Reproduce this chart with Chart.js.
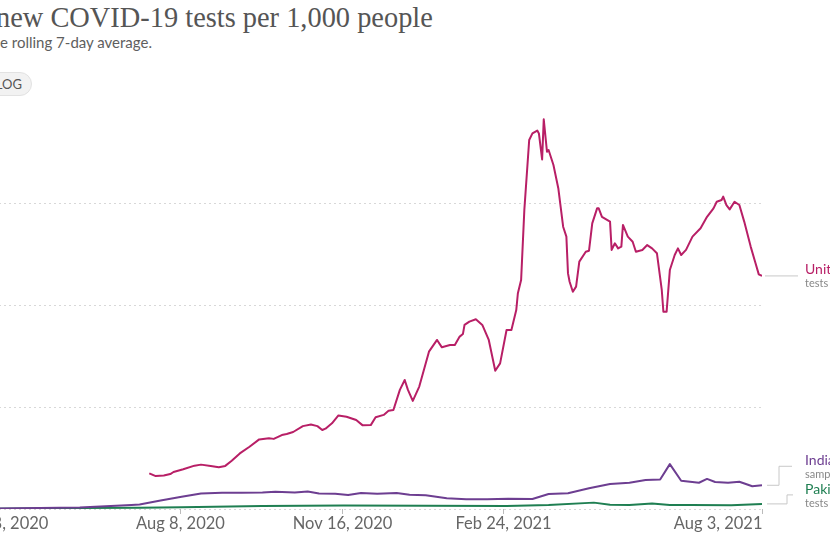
<!DOCTYPE html>
<html>
<head>
<meta charset="utf-8">
<script src="https://cdn.jsdelivr.net/npm/chart.js@4.4.1/dist/chart.umd.min.js"></script>
<style>
  html, body { margin: 0; padding: 0; background: #fff; }
  body { width: 830px; height: 540px; overflow: hidden; position: relative; font-family: Lato, sans-serif; }
  #title { position: absolute; left: -4px; top: 4px; font-family: "Liberation Serif", serif; font-size: 28.4px; line-height: 28px; color: #555; white-space: nowrap; }
  #subtitle { position: absolute; left: 0; top: 33px; font-size: 15px; line-height: 18px; color: #5e5e5e; white-space: nowrap; }
  .lead { position: absolute; right: 100%; top: 0; white-space: pre; }
  #toggle { position: absolute; right: 798px; top: 72px; height: 22px; line-height: 22px; border-radius: 12px; background: #f2f2f2; border: 1px solid #e2e2e2; font-size: 13px; color: #555; white-space: nowrap; }
  #toggle span { padding: 0 9px; }
  #wrap { position: absolute; left: -110px; top: 0; width: 940px; height: 540px; }
</style>
</head>
<body>
<div id="title"><span class="lead">Daily </span>new COVID-19 tests per 1,000 people</div>
<div id="subtitle"><span class="lead">Shown is th</span>e rolling 7-day average.</div>
<div id="toggle"><span>LINEAR</span><span>LOG</span></div>
<div id="wrap"><canvas id="chart" width="940" height="540"></canvas></div>
<script>
// days counted from START_DATE
const START_DATE = "2020-03-18";

const ukDays = [124, 128, 133, 137, 139, 145, 152, 156, 162, 167, 171, 175, 180, 186, 192, 198, 201, 206, 209, 213,
  219, 224, 228, 231, 233, 237, 241, 246, 252, 256, 261, 264, 269, 272, 275, 279, 282, 284, 287, 291,
  297, 302, 305, 310, 313, 316, 318, 319, 322, 326, 330, 334, 338, 341, 345, 348, 351, 352, 354, 356,
  359, 361, 364, 365, 367, 368, 370, 371, 374, 377, 380, 382, 383, 384, 386, 388, 390, 394, 396, 398,
  401, 402, 404, 409, 410, 412, 414, 416, 417, 420, 423, 425, 429, 432, 435, 438, 441, 442, 444, 446,
  449, 451, 453, 456, 460, 465, 469, 473, 475, 478, 479, 481, 483, 486, 489, 492, 496, 499, 501, 503];
const ukTests = [1.40, 1.29, 1.31, 1.37, 1.45, 1.56, 1.70, 1.74, 1.69, 1.64, 1.69, 1.89, 2.18, 2.44, 2.73, 2.77, 2.75, 2.90, 2.94, 3.02,
  3.25, 3.31, 3.25, 3.10, 3.15, 3.36, 3.67, 3.62, 3.49, 3.28, 3.29, 3.60, 3.69, 3.85, 3.88, 4.67, 5.06, 4.67, 4.24, 4.80,
  6.17, 6.63, 6.34, 6.43, 6.43, 6.76, 6.86, 7.22, 7.35, 7.44, 7.22, 6.63, 5.42, 5.71, 7.02, 7.02, 7.80, 8.46, 8.98, 11.73,
  14.47, 14.73, 14.84, 14.73, 13.71, 15.28, 14.01, 14.08, 13.49, 12.58, 11.07, 10.68, 9.24, 8.91, 8.52, 8.72, 9.70, 10.09, 10.13, 11.20,
  11.79, 11.79, 11.46, 11.27, 10.16, 10.42, 10.22, 10.29, 11.14, 10.68, 10.48, 10.09, 10.16, 10.35, 10.22, 10.03, 8.59, 7.74, 7.74, 9.37,
  9.96, 10.22, 9.96, 10.16, 10.68, 11.01, 11.46, 11.79, 12.05, 12.12, 12.25, 11.92, 11.75, 12.05, 11.92, 11.27, 10.29, 9.64, 9.20, 9.14];

const indiaDays = [0, 32, 81, 113, 118, 131, 144, 156, 169, 181, 194, 202, 214, 222, 229, 239, 247, 255, 265, 277,
  285, 295, 308, 320, 333, 346, 361, 371, 383, 396, 409, 421, 431, 440, 446, 453, 464, 469, 474, 482, 489, 497, 503];
const indiaTests = [0.01, 0.02, 0.06, 0.16, 0.18, 0.33, 0.48, 0.61, 0.64, 0.64, 0.65, 0.68, 0.65, 0.69, 0.61, 0.60, 0.55, 0.63, 0.60, 0.63,
  0.56, 0.54, 0.42, 0.38, 0.38, 0.40, 0.39, 0.59, 0.62, 0.81, 0.98, 1.03, 1.14, 1.16, 1.76, 1.11, 1.03, 1.18, 1.06, 1.03, 1.07, 0.89, 0.93];

const pakistanDays = [0, 81, 118, 144, 194, 244, 295, 345, 371, 399, 409, 421, 435, 446, 459, 484, 503];
const pakistanTests = [0.00, 0.04, 0.05, 0.07, 0.12, 0.14, 0.13, 0.12, 0.16, 0.25, 0.17, 0.16, 0.22, 0.16, 0.16, 0.15, 0.20];

const xTickDays = [0, 143, 243, 343, 503];
const xTickLabels = ["Mar 18, 2020", "Aug 8, 2020", "Nov 16, 2020", "Feb 24, 2021", "Aug 3, 2021"];
const yTicks = [0, 4, 8, 12];

const seriesNames = ["United Kingdom", "India", "Pakistan"];
const seriesNotes = ["tests performed", "samples tested", "tests performed"];
const colors = ["#b81f66", "#6d3e91", "#1f7f52"];

function points(days, vals) {
  return days.map((d, i) => ({ x: d, y: vals[i] }));
}

const lineLabels = {
  id: "lineLabels",
  afterDraw(chart) {
    const ctx = chart.ctx;
    const xs = chart.scales.x, ys = chart.scales.y;
    const area = chart.chartArea;
    ctx.save();
    // x ticks
    ctx.strokeStyle = "#bbb";
    ctx.lineWidth = 1;
    ctx.fillStyle = "#666";
    ctx.font = "16.5px Lato";
    ctx.textBaseline = "middle";
    xTickDays.forEach((d, i) => {
      const px = Math.round(xs.getPixelForValue(d)) + 0.5;
      ctx.beginPath();
      ctx.moveTo(px, area.bottom);
      ctx.lineTo(px, area.bottom + 5);
      ctx.stroke();
      ctx.textAlign = i === 0 ? "left" : (i === xTickDays.length - 1 ? "right" : "center");
      ctx.fillText(xTickLabels[i], px, area.bottom + 15);
    });

    // end labels
    const ends = chart.data.datasets.map(ds => ys.getPixelForValue(ds.data[ds.data.length - 1].y));
    const r = area.right;
    ctx.strokeStyle = "#c8c8c8";
    const tx = r + 43;
    // United Kingdom
    ctx.beginPath();
    ctx.moveTo(r + 3, ends[0]); ctx.lineTo(r + 36, ends[0]);
    ctx.stroke();
    // India
    const iy = ends[1] - 19;
    ctx.beginPath();
    ctx.moveTo(r + 5, ends[1]); ctx.lineTo(r + 17, ends[1]); ctx.lineTo(r + 17, iy); ctx.lineTo(r + 30, iy);
    ctx.stroke();
    // Pakistan
    const py = ends[2] - 9;
    ctx.beginPath();
    ctx.moveTo(r + 5, ends[2]); ctx.lineTo(r + 25, ends[2]); ctx.lineTo(r + 25, py); ctx.lineTo(r + 31, py);
    ctx.stroke();

    const anchors = [ends[0], iy, py + 1];
    ctx.textAlign = "left";
    anchors.forEach((y, i) => {
      ctx.fillStyle = colors[i];
      ctx.font = "14px Lato";
      ctx.fillText(seriesNames[i], tx, y - 6);
      ctx.fillStyle = "#888";
      ctx.font = "11px Lato";
      ctx.fillText(seriesNotes[i], tx, y + 8);
    });
    ctx.restore();
  }
};

new Chart(document.getElementById("chart"), {
  type: "line",
  data: {
    datasets: [
      { label: seriesNames[0], data: points(ukDays, ukTests), borderColor: colors[0] },
      { label: seriesNames[1], data: points(indiaDays, indiaTests), borderColor: colors[1] },
      { label: seriesNames[2], data: points(pakistanDays, pakistanTests), borderColor: colors[2] }
    ]
  },
  options: {
    responsive: false,
    animation: false,
    layout: { padding: { left: 18.8, right: 68, top: 113.75, bottom: 31 } },
    elements: {
      line: { borderWidth: 2, tension: 0, borderJoinStyle: "round" },
      point: { radius: 0 }
    },
    plugins: { legend: { display: false }, tooltip: { enabled: false } },
    scales: {
      x: { type: "linear", min: 0, max: 503, display: false },
      y: {
        min: 0,
        max: 15.5,
        afterBuildTicks(scale) { scale.ticks = yTicks.map(v => ({ value: v })); },
        afterFit(scale) { scale.width = 40; },
        grid: { color: "#d8d8d8", drawTicks: false },
        border: { display: false, dash: [2, 3] },
        ticks: { color: "#666", font: { family: "Lato", size: 14 }, padding: 4 }
      }
    }
  },
  plugins: [lineLabels]
});
</script>
</body>
</html>
